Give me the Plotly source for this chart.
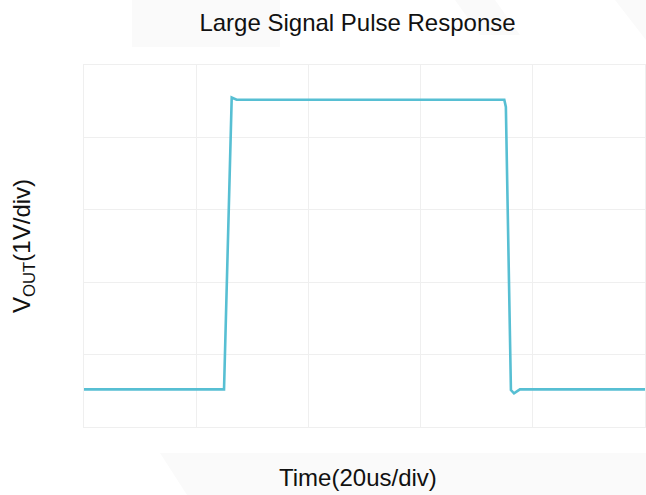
import plotly.graph_objects as go

# Data (time in us, voltage in V)
time_us = [0.0, 24.96, 26.33, 27.2, 74.92, 75.2, 76.1, 76.65, 77.7, 100.0]
vout_v = [0.52, 0.52, 4.55, 4.52, 4.52, 4.42, 0.51, 0.465, 0.52, 0.52]

x_range = [0, 100]
y_range = [0, 5]
x_div = 20
y_div = 1

title_text = "Large Signal Pulse Response"
x_title = "Time(20us/div)"
y_title = "V<sub>OUT</sub>(1V/div)"

line_color = "#57BFD3"
grid_color = "#EFEFEF"
font_family = "Liberation Sans, Arial, sans-serif"
text_color = "#111111"

W, H = 646, 495
L, R, T, B = 84, 1, 65, 68
PW, PH = W - L - R, H - T - B


def px(xp, yp):
    """convert page pixel to paper coords (for layout placement)"""
    return (xp - L) / PW, (H - B - yp) / PH


def poly(points):
    pts = [px(a, b) for a, b in points]
    return "M " + " L ".join(f"{a:.4f},{b:.4f}" for a, b in pts) + " Z"


fig = go.Figure()
fig.add_trace(go.Scatter(
    x=time_us, y=vout_v, mode="lines",
    line=dict(color=line_color, width=2.6),
    showlegend=False, hoverinfo="skip",
))

shapes = []
bg = "#FAFAFA"
for pts in [
    [(132, 0), (280, 0), (280, 47), (132, 47)],
    [(455, 0), (495, 0), (520, 35), (480, 35)],
    [(615, 0), (646, 0), (646, 40)],
    [(160, 453), (646, 453), (646, 495), (187, 495)],
]:
    shapes.append(dict(type="path", path=poly(pts), xref="paper", yref="paper",
                       fillcolor=bg, line=dict(width=0), layer="below"))

tx, _ = px(357.5, 0)
_, xty = px(0, 478)

fig.update_layout(
    width=W, height=H,
    margin=dict(l=L, r=R, t=T, b=B),
    paper_bgcolor="white", plot_bgcolor="rgba(0,0,0,0)",
    font=dict(family=font_family, color=text_color),
    title=dict(text=title_text, x=tx, xref="paper", xanchor="center",
               y=1 - 23 / H, yref="container", yanchor="middle",
               font=dict(size=24, family=font_family, color=text_color)),
    shapes=shapes,
    annotations=[dict(text=x_title, x=tx, y=xty, xref="paper", yref="paper",
                      xanchor="center", yanchor="middle", showarrow=False,
                      font=dict(size=24, family=font_family, color=text_color))],
    xaxis=dict(range=x_range, dtick=x_div, tick0=0, showgrid=True, gridcolor=grid_color,
               gridwidth=1, zeroline=False, showticklabels=False, ticks="",
               showline=True, linecolor=grid_color, mirror=True),
    yaxis=dict(range=y_range, dtick=y_div, tick0=0, showgrid=True, gridcolor=grid_color,
               gridwidth=1, zeroline=False, showticklabels=False, ticks="",
               showline=True, linecolor=grid_color, mirror=True,
               title=dict(text=y_title, font=dict(size=24, family=font_family, color=text_color),
                          standoff=45)),
)

fig.write_html("out.html", config={"displayModeBar": False},
               post_script="document.body.style.margin='0px';")
